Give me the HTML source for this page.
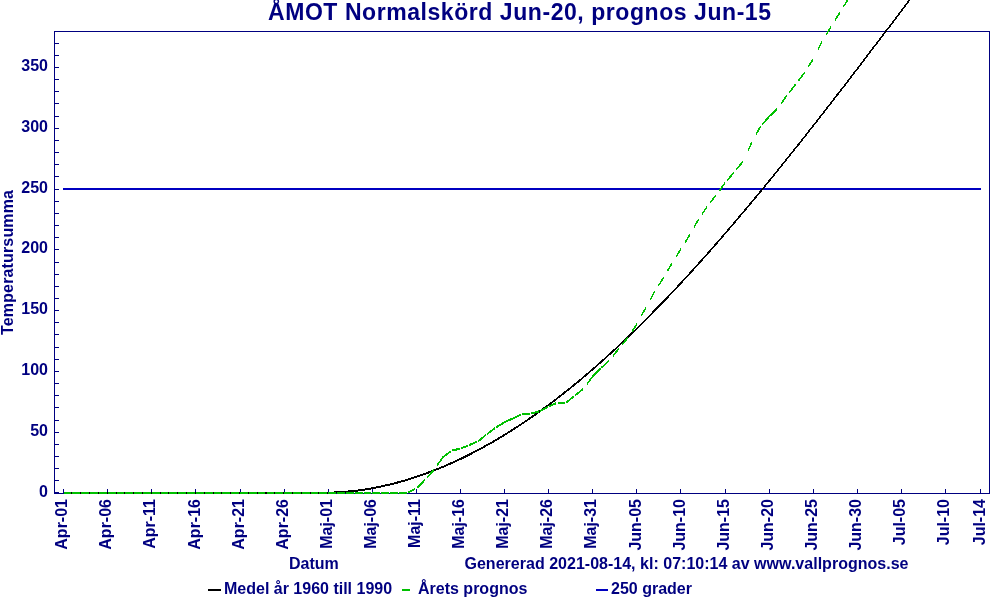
<!DOCTYPE html><html><head><meta charset="utf-8"><title>chart</title><style>html,body{margin:0;padding:0;background:#fff}svg{display:block;will-change:transform}text{font-family:"Liberation Sans",sans-serif;font-weight:bold;fill:#000080}</style></head><body>
<svg width="990" height="600" viewBox="0 0 990 600">
<rect width="990" height="600" fill="#fff"/>
<text x="268" y="20" font-size="23" textLength="503" lengthAdjust="spacing">ÅMOT Normalskörd Jun-20, prognos Jun-15</text>
<g stroke="#000080" stroke-width="1" fill="none" shape-rendering="crispEdges">
<rect x="54.5" y="31.5" width="935" height="462"/>
<line x1="54.5" x2="59" y1="492.5" y2="492.5"/>
<line x1="54.5" x2="59" y1="480.5" y2="480.5"/>
<line x1="54.5" x2="59" y1="468.5" y2="468.5"/>
<line x1="54.5" x2="59" y1="456.5" y2="456.5"/>
<line x1="54.5" x2="59" y1="444.5" y2="444.5"/>
<line x1="54.5" x2="59" y1="432.5" y2="432.5"/>
<line x1="54.5" x2="59" y1="420.5" y2="420.5"/>
<line x1="54.5" x2="59" y1="407.5" y2="407.5"/>
<line x1="54.5" x2="59" y1="395.5" y2="395.5"/>
<line x1="54.5" x2="59" y1="383.5" y2="383.5"/>
<line x1="54.5" x2="59" y1="371.5" y2="371.5"/>
<line x1="54.5" x2="59" y1="359.5" y2="359.5"/>
<line x1="54.5" x2="59" y1="347.5" y2="347.5"/>
<line x1="54.5" x2="59" y1="334.5" y2="334.5"/>
<line x1="54.5" x2="59" y1="322.5" y2="322.5"/>
<line x1="54.5" x2="59" y1="310.5" y2="310.5"/>
<line x1="54.5" x2="59" y1="298.5" y2="298.5"/>
<line x1="54.5" x2="59" y1="286.5" y2="286.5"/>
<line x1="54.5" x2="59" y1="274.5" y2="274.5"/>
<line x1="54.5" x2="59" y1="262.5" y2="262.5"/>
<line x1="54.5" x2="59" y1="249.5" y2="249.5"/>
<line x1="54.5" x2="59" y1="237.5" y2="237.5"/>
<line x1="54.5" x2="59" y1="225.5" y2="225.5"/>
<line x1="54.5" x2="59" y1="213.5" y2="213.5"/>
<line x1="54.5" x2="59" y1="201.5" y2="201.5"/>
<line x1="54.5" x2="59" y1="189.5" y2="189.5"/>
<line x1="54.5" x2="59" y1="176.5" y2="176.5"/>
<line x1="54.5" x2="59" y1="164.5" y2="164.5"/>
<line x1="54.5" x2="59" y1="152.5" y2="152.5"/>
<line x1="54.5" x2="59" y1="140.5" y2="140.5"/>
<line x1="54.5" x2="59" y1="128.5" y2="128.5"/>
<line x1="54.5" x2="59" y1="116.5" y2="116.5"/>
<line x1="54.5" x2="59" y1="103.5" y2="103.5"/>
<line x1="54.5" x2="59" y1="91.5" y2="91.5"/>
<line x1="54.5" x2="59" y1="79.5" y2="79.5"/>
<line x1="54.5" x2="59" y1="67.5" y2="67.5"/>
<line x1="54.5" x2="59" y1="55.5" y2="55.5"/>
<line x1="54.5" x2="59" y1="43.5" y2="43.5"/>
<line x1="63.5" x2="63.5" y1="488.5" y2="493.5"/>
<line x1="107.5" x2="107.5" y1="488.5" y2="493.5"/>
<line x1="151.5" x2="151.5" y1="488.5" y2="493.5"/>
<line x1="195.5" x2="195.5" y1="488.5" y2="493.5"/>
<line x1="240.5" x2="240.5" y1="488.5" y2="493.5"/>
<line x1="284.5" x2="284.5" y1="488.5" y2="493.5"/>
<line x1="328.5" x2="328.5" y1="488.5" y2="493.5"/>
<line x1="372.5" x2="372.5" y1="488.5" y2="493.5"/>
<line x1="416.5" x2="416.5" y1="488.5" y2="493.5"/>
<line x1="460.5" x2="460.5" y1="488.5" y2="493.5"/>
<line x1="504.5" x2="504.5" y1="488.5" y2="493.5"/>
<line x1="548.5" x2="548.5" y1="488.5" y2="493.5"/>
<line x1="592.5" x2="592.5" y1="488.5" y2="493.5"/>
<line x1="636.5" x2="636.5" y1="488.5" y2="493.5"/>
<line x1="680.5" x2="680.5" y1="488.5" y2="493.5"/>
<line x1="725.5" x2="725.5" y1="488.5" y2="493.5"/>
<line x1="769.5" x2="769.5" y1="488.5" y2="493.5"/>
<line x1="813.5" x2="813.5" y1="488.5" y2="493.5"/>
<line x1="857.5" x2="857.5" y1="488.5" y2="493.5"/>
<line x1="901.5" x2="901.5" y1="488.5" y2="493.5"/>
<line x1="945.5" x2="945.5" y1="488.5" y2="493.5"/>
<line x1="980.5" x2="980.5" y1="488.5" y2="493.5"/>
</g>
<line x1="63" y1="189" x2="981" y2="189" stroke="#0000c0" stroke-width="2" shape-rendering="crispEdges"/>
<polyline fill="none" stroke="#000" stroke-width="1" shape-rendering="crispEdges" points="63.6,492.5 330.0,492.5 332.1,492.1 340.9,491.6 349.7,490.9 358.6,489.9 367.4,488.6 376.2,487.0 385.0,485.1 393.8,483.0 402.7,480.6 411.5,477.9 420.3,475.0 429.1,471.8 437.9,468.4 446.8,464.7 455.6,460.8 464.4,456.6 473.2,452.1 482.0,447.4 490.9,442.5 499.7,437.3 508.5,431.9 517.3,426.3 526.1,420.4 535.0,414.3 543.8,407.9 552.6,401.4 561.4,394.6 570.2,387.6 579.1,380.4 587.9,372.9 596.7,365.3 605.5,357.5 614.3,349.4 623.2,341.2 632.0,332.7 640.8,324.1 649.6,315.2 658.4,306.2 667.3,297.1 676.1,287.7 684.9,278.2 693.7,268.6 702.5,258.8 711.4,248.8 720.2,238.7 729.0,228.5 737.8,218.1 746.6,207.7 755.5,197.1 764.3,186.4 773.1,175.6 781.9,164.7 790.7,153.7 799.6,142.6 808.4,131.4 817.2,120.2 826.0,108.9 834.8,97.5 843.7,86.1 852.5,74.6 861.3,63.1 870.1,51.5 878.9,39.9 887.8,28.3 896.6,16.6 905.4,5.0 914.2,-6.7"/>
<polyline fill="none" stroke="#000" stroke-width="1" shape-rendering="crispEdges" points="63.6,493.5 330.0,493.5 332.1,493.1 340.9,492.6 349.7,491.9 358.6,490.9 367.4,489.6 376.2,488.0 385.0,486.1 393.8,484.0 402.7,481.6 411.5,478.9 420.3,476.0 429.1,472.8 437.9,469.4 446.8,465.7 455.6,461.8 464.4,457.6 473.2,453.1 482.0,448.4 490.9,443.5 499.7,438.3 508.5,432.9 517.3,427.3 526.1,421.4 535.0,415.3 543.8,408.9 552.6,402.4 561.4,395.6 570.2,388.6 579.1,381.4 587.9,373.9 596.7,366.3 605.5,358.5 614.3,350.4 623.2,342.2 632.0,333.7 640.8,325.1 649.6,316.2 658.4,307.2 667.3,298.1 676.1,288.7 684.9,279.2 693.7,269.6 702.5,259.8 711.4,249.8 720.2,239.7 729.0,229.5 737.8,219.1 746.6,208.7 755.5,198.1 764.3,187.4 773.1,176.6 781.9,165.7 790.7,154.7 799.6,143.6 808.4,132.4 817.2,121.2 826.0,109.9 834.8,98.5 843.7,87.1 852.5,75.6 861.3,64.1 870.1,52.5 878.9,40.9 887.8,29.3 896.6,17.6 905.4,6.0 914.2,-5.7"/>
<path fill="none" stroke="#00c000" stroke-width="1" shape-rendering="crispEdges" d="M63.6 492.5L71.4 492.5M72.4 492.5L80.2 492.5M81.2 492.5L89.0 492.5M90.1 492.5L97.9 492.5M98.9 492.5L106.7 492.5M107.7 492.5L115.5 492.5M116.5 492.5L124.3 492.5M125.3 492.5L133.1 492.5M134.2 492.5L142.0 492.5M143.0 492.5L150.8 492.5M151.8 492.5L159.6 492.5M160.6 492.5L168.4 492.5M169.4 492.5L177.2 492.5M178.3 492.5L186.1 492.5M187.1 492.5L194.9 492.5M195.9 492.5L203.7 492.5M204.7 492.5L212.5 492.5M213.5 492.5L221.3 492.5M222.4 492.5L230.2 492.5M231.2 492.5L239.0 492.5M240.0 492.5L247.8 492.5M248.8 492.5L256.6 492.5M257.6 492.5L265.4 492.5M266.5 492.5L274.3 492.5M275.3 492.5L283.1 492.5M284.1 492.5L291.9 492.5M292.9 492.5L300.7 492.5M301.7 492.5L309.5 492.5M310.6 492.5L318.4 492.5M319.4 492.5L327.2 492.5M328.2 492.5L336.0 492.5M337.0 492.5L344.8 492.5M345.8 492.5L353.6 492.5M354.7 492.5L362.5 492.5M363.5 492.5L371.3 492.5M372.3 492.5L380.1 492.5M381.1 492.5L388.9 492.5M389.9 492.5L397.7 492.5M398.8 492.5L406.6 492.3M407.6 492.3L415.4 488.5M417.5 486.9L425.2 479.1M426.9 477.2L434.0 469.4M437.4 464.5L442.9 456.7M442.9 456.7L450.7 450.8M451.7 450.0L459.5 448.4M460.5 448.2L468.3 444.9M469.3 444.5L477.1 441.3M478.1 440.9L485.9 434.4M487.0 433.6L494.8 427.8M495.8 427.0L503.6 422.4M504.6 421.8L512.4 418.1M513.4 417.6L521.2 414.0M522.2 413.5L530.0 413.1M531.1 413.0L538.9 410.9M539.9 410.6L547.7 406.5M548.7 406.0L556.5 402.6M557.5 402.1L565.3 402.1M566.3 402.1L574.1 395.7M575.2 394.9L583.0 388.6M587.2 383.4L592.8 375.6M592.8 375.6L600.6 368.1M601.6 367.1L609.4 359.6M613.1 355.3L619.3 347.5M621.7 344.6L628.1 336.8M631.7 331.4L636.9 323.6M641.5 315.2L645.7 307.4M650.2 299.2L654.5 291.4M658.5 285.1L663.4 277.3M667.6 270.2L672.2 262.4M676.1 256.2L681.0 248.4M684.9 242.2L689.8 234.4M694.3 226.4L698.6 218.6M702.2 213.4L707.5 205.6M710.1 202.2L716.3 194.4M719.4 190.2L725.1 182.4M727.3 179.8L733.9 172.0M736.2 169.2L742.7 161.4M748.0 150.1L751.6 142.3M756.2 133.8L760.4 126.0M762.3 123.8L769.2 116.0M769.2 116.0L777.0 108.7M781.5 102.8L786.8 95.0M789.5 91.6L795.7 83.8M798.5 80.1L804.5 72.3M808.3 66.3L813.3 58.5M818.1 49.0L822.1 41.2M826.4 34.0L830.9 26.2M834.8 20.0L839.8 12.2M843.7 5.8L848.6 -2.0M852.5 -8.2L857.4 -16.0"/>
<path fill="none" stroke="#00c000" stroke-width="1" shape-rendering="crispEdges" d="M63.6 493.5L71.4 493.5M72.4 493.5L80.2 493.5M81.2 493.5L89.0 493.5M90.1 493.5L97.9 493.5M98.9 493.5L106.7 493.5M107.7 493.5L115.5 493.5M116.5 493.5L124.3 493.5M125.3 493.5L133.1 493.5M134.2 493.5L142.0 493.5M143.0 493.5L150.8 493.5M151.8 493.5L159.6 493.5M160.6 493.5L168.4 493.5M169.4 493.5L177.2 493.5M178.3 493.5L186.1 493.5M187.1 493.5L194.9 493.5M195.9 493.5L203.7 493.5M204.7 493.5L212.5 493.5M213.5 493.5L221.3 493.5M222.4 493.5L230.2 493.5M231.2 493.5L239.0 493.5M240.0 493.5L247.8 493.5M248.8 493.5L256.6 493.5M257.6 493.5L265.4 493.5M266.5 493.5L274.3 493.5M275.3 493.5L283.1 493.5M284.1 493.5L291.9 493.5M292.9 493.5L300.7 493.5M301.7 493.5L309.5 493.5M310.6 493.5L318.4 493.5M319.4 493.5L327.2 493.5M328.2 493.5L336.0 493.5M337.0 493.5L344.8 493.5M345.8 493.5L353.6 493.5M354.7 493.5L362.5 493.5M363.5 493.5L371.3 493.5M372.3 493.5L380.1 493.5M381.1 493.5L388.9 493.5M389.9 493.5L397.7 493.5M398.8 493.5L406.6 493.3M407.6 493.3L415.4 489.5M417.5 487.9L425.2 480.1M426.9 478.2L434.0 470.4M437.4 465.5L442.9 457.7M442.9 457.7L450.7 451.8M451.7 451.0L459.5 449.4M460.5 449.2L468.3 445.9M469.3 445.5L477.1 442.3M478.1 441.9L485.9 435.4M487.0 434.6L494.8 428.8M495.8 428.0L503.6 423.4M504.6 422.8L512.4 419.1M513.4 418.6L521.2 415.0M522.2 414.5L530.0 414.1M531.1 414.0L538.9 411.9M539.9 411.6L547.7 407.5M548.7 407.0L556.5 403.6M557.5 403.1L565.3 403.1M566.3 403.1L574.1 396.7M575.2 395.9L583.0 389.6M587.2 384.4L592.8 376.6M592.8 376.6L600.6 369.1M601.6 368.1L609.4 360.6M613.1 356.3L619.3 348.5M621.7 345.6L628.1 337.8M631.7 332.4L636.9 324.6M641.5 316.2L645.7 308.4M650.2 300.2L654.5 292.4M658.5 286.1L663.4 278.3M667.6 271.2L672.2 263.4M676.1 257.2L681.0 249.4M684.9 243.2L689.8 235.4M694.3 227.4L698.6 219.6M702.2 214.4L707.5 206.6M710.1 203.2L716.3 195.4M719.4 191.2L725.1 183.4M727.3 180.8L733.9 173.0M736.2 170.2L742.7 162.4M748.0 151.1L751.6 143.3M756.2 134.8L760.4 127.0M762.3 124.8L769.2 117.0M769.2 117.0L777.0 109.7M781.5 103.8L786.8 96.0M789.5 92.6L795.7 84.8M798.5 81.1L804.5 73.3M808.3 67.3L813.3 59.5M818.1 50.0L822.1 42.2M826.4 35.0L830.9 27.2M834.8 21.0L839.8 13.2M843.7 6.8L848.6 -1.0M852.5 -7.2L857.4 -15.0"/>
<text x="48" y="496.5" font-size="16" text-anchor="end">0</text>
<text x="48" y="435.7" font-size="16" text-anchor="end">50</text>
<text x="48" y="374.9" font-size="16" text-anchor="end">100</text>
<text x="48" y="314.1" font-size="16" text-anchor="end">150</text>
<text x="48" y="253.3" font-size="16" text-anchor="end">200</text>
<text x="48" y="192.6" font-size="16" text-anchor="end">250</text>
<text x="48" y="131.8" font-size="16" text-anchor="end">300</text>
<text x="48" y="71.0" font-size="16" text-anchor="end">350</text>
<text transform="translate(67.2,499) rotate(-90)" font-size="16" text-anchor="end">Apr-01</text>
<text transform="translate(111.3,499) rotate(-90)" font-size="16" text-anchor="end">Apr-06</text>
<text transform="translate(155.4,499) rotate(-90)" font-size="16" text-anchor="end">Apr-11</text>
<text transform="translate(199.5,499) rotate(-90)" font-size="16" text-anchor="end">Apr-16</text>
<text transform="translate(243.6,499) rotate(-90)" font-size="16" text-anchor="end">Apr-21</text>
<text transform="translate(287.7,499) rotate(-90)" font-size="16" text-anchor="end">Apr-26</text>
<text transform="translate(331.8,499) rotate(-90)" font-size="16" text-anchor="end">Maj-01</text>
<text transform="translate(375.9,499) rotate(-90)" font-size="16" text-anchor="end">Maj-06</text>
<text transform="translate(420.0,499) rotate(-90)" font-size="16" text-anchor="end">Maj-11</text>
<text transform="translate(464.1,499) rotate(-90)" font-size="16" text-anchor="end">Maj-16</text>
<text transform="translate(508.2,499) rotate(-90)" font-size="16" text-anchor="end">Maj-21</text>
<text transform="translate(552.3,499) rotate(-90)" font-size="16" text-anchor="end">Maj-26</text>
<text transform="translate(596.4,499) rotate(-90)" font-size="16" text-anchor="end">Maj-31</text>
<text transform="translate(640.5,499) rotate(-90)" font-size="16" text-anchor="end">Jun-05</text>
<text transform="translate(684.6,499) rotate(-90)" font-size="16" text-anchor="end">Jun-10</text>
<text transform="translate(728.7,499) rotate(-90)" font-size="16" text-anchor="end">Jun-15</text>
<text transform="translate(772.8,499) rotate(-90)" font-size="16" text-anchor="end">Jun-20</text>
<text transform="translate(816.9,499) rotate(-90)" font-size="16" text-anchor="end">Jun-25</text>
<text transform="translate(861.0,499) rotate(-90)" font-size="16" text-anchor="end">Jun-30</text>
<text transform="translate(905.1,499) rotate(-90)" font-size="16" text-anchor="end">Jul-05</text>
<text transform="translate(949.2,499) rotate(-90)" font-size="16" text-anchor="end">Jul-10</text>
<text transform="translate(984.5,499) rotate(-90)" font-size="16" text-anchor="end">Jul-14</text>
<text transform="translate(12.8,335) rotate(-90)" font-size="16" textLength="145" lengthAdjust="spacing">Temperatursumma</text>
<text x="289" y="569" font-size="16">Datum</text>
<text x="464.5" y="569" font-size="16" textLength="444" lengthAdjust="spacing">Genererad 2021-08-14, kl: 07:10:14 av www.vallprognos.se</text>
<line x1="208" x2="221" y1="590" y2="590" stroke="#000" stroke-width="2" shape-rendering="crispEdges"/>
<text x="224" y="594" font-size="16">Medel år 1960 till 1990</text>
<line x1="402" x2="410" y1="590" y2="590" stroke="#00c000" stroke-width="2" shape-rendering="crispEdges"/>
<text x="418" y="594" font-size="16">Årets prognos</text>
<line x1="596" x2="608" y1="590" y2="590" stroke="#0000c0" stroke-width="2" shape-rendering="crispEdges"/>
<text x="611" y="594" font-size="16">250 grader</text>
</svg></body></html>
